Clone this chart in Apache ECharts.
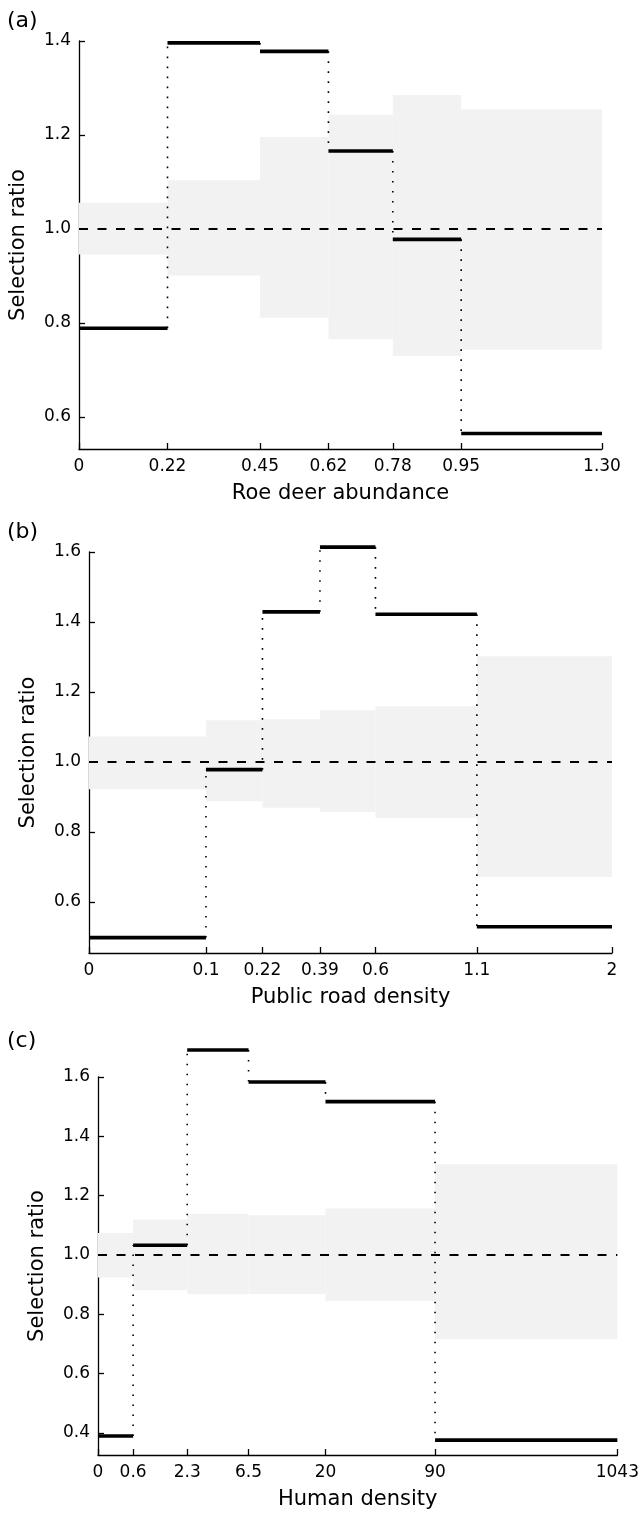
<!DOCTYPE html>
<html>
<head>
<meta charset="utf-8">
<script src="https://cdn.jsdelivr.net/npm/echarts@6/dist/echarts.min.js"></script>
<style>
  html, body { margin: 0; padding: 0; background: #fff; }
  #chart { width: 642px; height: 1513px; }
</style>
</head>
<body>
<div id="chart"></div>
<script>
// (a) roe deer abundance - linear x
var roeBreaks = [0, 0.22, 0.45, 0.62, 0.78, 0.95, 1.30];
var roeTicks = ['0', '0.22', '0.45', '0.62', '0.78', '0.95', '1.30'];
var roeRatio = [0.789, 1.396, 1.378, 1.166, 0.978, 0.565];
var roeLow = [0.946, 0.901, 0.811, 0.766, 0.730, 0.743];
var roeHigh = [1.056, 1.104, 1.196, 1.243, 1.285, 1.255];

// (b) public road density - sqrt x
var roadBreaks = [0, 0.1, 0.22, 0.39, 0.6, 1.1, 2];
var roadTicks = ['0', '0.1', '0.22', '0.39', '0.6', '1.1', '2'];
var roadRatio = [0.498, 0.978, 1.429, 1.614, 1.422, 0.529];
var roadLow = [0.922, 0.888, 0.869, 0.857, 0.840, 0.671];
var roadHigh = [1.073, 1.119, 1.122, 1.148, 1.159, 1.302];

// (c) human density - log(x+1) x
var humanBreaks = [0, 0.6, 2.3, 6.5, 20, 90, 1043];
var humanTicks = ['0', '0.6', '2.3', '6.5', '20', '90', '1043'];
var humanRatio = [0.390, 1.033, 1.691, 1.583, 1.517, 0.376];
var humanLow = [0.924, 0.881, 0.868, 0.869, 0.845, 0.717];
var humanHigh = [1.074, 1.120, 1.139, 1.134, 1.157, 1.306];

var yTicksA = [0.6, 0.8, 1.0, 1.2, 1.4];
var yTicksB = [0.6, 0.8, 1.0, 1.2, 1.4, 1.6];
var yTicksC = [0.4, 0.6, 0.8, 1.0, 1.2, 1.4, 1.6];

var FONT = 'DejaVu Sans';

var panels = [
  { tag: '(a)', name: 'Roe deer abundance', breaks: roeBreaks, ticks: roeTicks,
    ratio: roeRatio, low: roeLow, high: roeHigh, yTicks: yTicksA,
    f: function(v) { return v; },
    grid: { left: 79, top: 41, width: 523, height: 408 }, yMin: 0.532, yMax: 1.4, tagTop: 10 },
  { tag: '(b)', name: 'Public road density', breaks: roadBreaks, ticks: roadTicks,
    ratio: roadRatio, low: roadLow, high: roadHigh, yTicks: yTicksB,
    f: Math.sqrt,
    grid: { left: 89, top: 552, width: 523, height: 401 }, yMin: 0.454, yMax: 1.6, tagTop: 521 },
  { tag: '(c)', name: 'Human density', breaks: humanBreaks, ticks: humanTicks,
    ratio: humanRatio, low: humanLow, high: humanHigh, yTicks: yTicksC,
    f: function(v) { return Math.log10(v + 1); },
    grid: { left: 98, top: 1077, width: 523, height: 378 }, yMin: 0.326, yMax: 1.6, tagTop: 1030 }
];

var option = {
  animation: false,
  backgroundColor: '#fff',
  textStyle: { fontFamily: FONT },
  title: [],
  grid: [],
  xAxis: [],
  yAxis: [],
  series: []
};

panels.forEach(function(p, k) {
  var pos = p.breaks.map(p.f);
  var xMin = pos[0], xMax = pos[pos.length - 1];

  option.title.push({
    text: p.tag, left: 7, top: p.tagTop, padding: 0,
    textStyle: { fontFamily: FONT, fontSize: 22, fontWeight: 'normal', color: '#000' }
  });
  option.grid.push(p.grid);

  option.xAxis.push({
    type: 'value', gridIndex: k, min: xMin, max: xMax,
    name: p.name, nameLocation: 'middle', nameGap: 34,
    nameTextStyle: { fontFamily: FONT, fontSize: 21, color: '#000' },
    splitLine: { show: false },
    axisLine: { onZero: false, lineStyle: { color: '#000', width: 1.3 } },
    axisTick: { inside: true, length: 6, customValues: pos, lineStyle: { color: '#000', width: 1.3 } },
    axisLabel: {
      customValues: pos, margin: 9, fontFamily: FONT, fontSize: 17, color: '#000',
      formatter: function(v) {
        for (var i = 0; i < pos.length; i++) {
          if (Math.abs(pos[i] - v) < 1e-6) return p.ticks[i];
        }
        return '';
      }
    }
  });

  option.yAxis.push({
    type: 'value', gridIndex: k, min: p.yMin, max: p.yMax,
    name: 'Selection ratio', nameLocation: 'middle', nameGap: 50, nameRotate: 90,
    nameTextStyle: { fontFamily: FONT, fontSize: 21, color: '#000' },
    splitLine: { show: false },
    axisLine: { lineStyle: { color: '#000', width: 1.3 } },
    axisTick: { inside: true, length: 6, customValues: p.yTicks, lineStyle: { color: '#000', width: 1.3 } },
    axisLabel: {
      customValues: p.yTicks, margin: 8, fontFamily: FONT, fontSize: 17, color: '#000',
      formatter: function(v) { return v.toFixed(1); }
    }
  });

  var bandData = [], segData = [], dotData = [];
  for (var i = 0; i < p.ratio.length; i++) {
    bandData.push([pos[i], pos[i + 1], p.low[i], p.high[i]]);
    segData.push([pos[i], pos[i + 1], p.ratio[i]]);
    if (i > 0) dotData.push([pos[i], p.ratio[i - 1], p.ratio[i]]);
  }

  // confidence bands
  option.series.push({
    type: 'custom', xAxisIndex: k, yAxisIndex: k, clip: false, silent: true, z: 1,
    encode: { x: [0, 1], y: [2, 3] },
    data: bandData,
    renderItem: function(params, api) {
      var a = api.coord([api.value(0), api.value(3)]);
      var b = api.coord([api.value(1), api.value(2)]);
      return {
        type: 'rect',
        shape: { x: a[0], y: a[1], width: b[0] - a[0], height: b[1] - a[1] },
        style: { fill: '#f2f2f2' }
      };
    }
  });

  // reference line at 1.0
  option.series.push({
    type: 'line', xAxisIndex: k, yAxisIndex: k, silent: true, z: 2,
    symbol: 'none',
    lineStyle: { color: '#000', width: 2, type: [9, 9.5] },
    data: [[xMin, 1], [xMax, 1]]
  });

  // dotted connectors
  option.series.push({
    type: 'custom', xAxisIndex: k, yAxisIndex: k, clip: false, silent: true, z: 3,
    encode: { x: 0, y: [1, 2] },
    data: dotData,
    renderItem: function(params, api) {
      var a = api.coord([api.value(0), api.value(1)]);
      var b = api.coord([api.value(0), api.value(2)]);
      return {
        type: 'line',
        shape: { x1: a[0], y1: a[1], x2: b[0], y2: b[1] },
        style: { stroke: '#000', lineWidth: 1.6, lineDash: [1.6, 8.4] }
      };
    }
  });

  // selection ratio steps
  option.series.push({
    type: 'custom', xAxisIndex: k, yAxisIndex: k, clip: false, silent: true, z: 4,
    encode: { x: [0, 1], y: 2 },
    data: segData,
    renderItem: function(params, api) {
      var a = api.coord([api.value(0), api.value(2)]);
      var b = api.coord([api.value(1), api.value(2)]);
      return {
        type: 'line',
        shape: { x1: a[0], y1: a[1], x2: b[0], y2: b[1] },
        style: { stroke: '#000', lineWidth: 3.6 }
      };
    }
  });
});

var chart = echarts.init(document.getElementById('chart'), null, { renderer: 'canvas' });
chart.setOption(option);
</script>
</body>
</html>
